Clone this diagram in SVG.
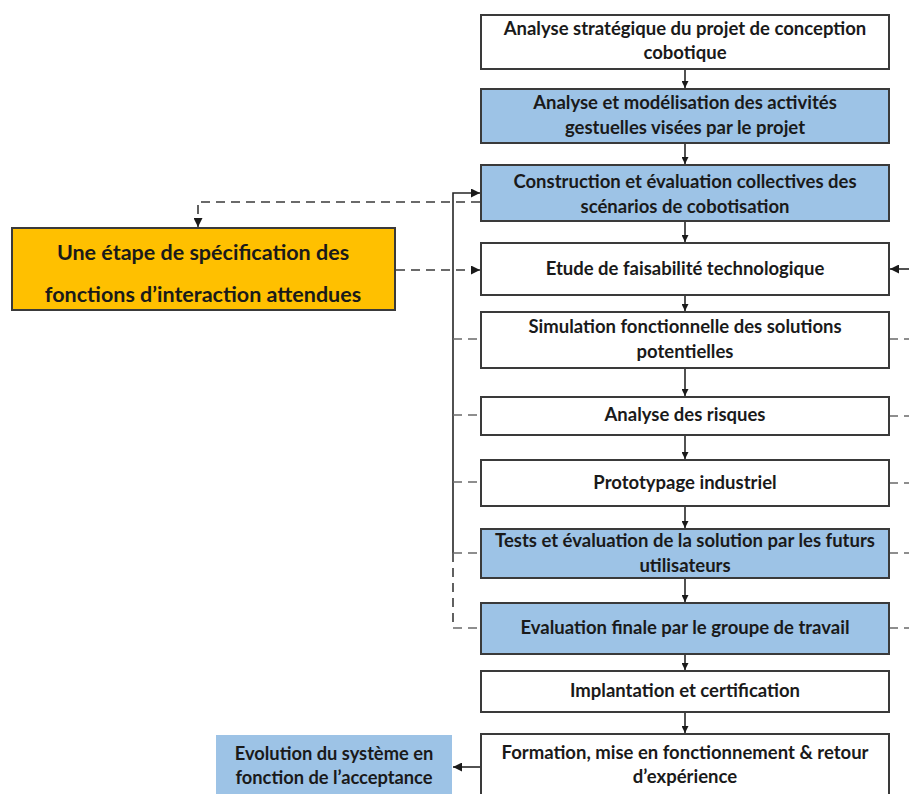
<svg xmlns="http://www.w3.org/2000/svg" width="909" height="794" viewBox="0 0 909 794">
<defs>
<marker id="ah" viewBox="0 0 10 10" refX="10" refY="5" markerWidth="9" markerHeight="9" markerUnits="userSpaceOnUse" orient="auto">
<path d="M0,0 L10,5 L0,10 z" fill="#1a1a1a"/>
</marker>
<marker id="ahs" viewBox="0 0 10 10" refX="10" refY="5" markerWidth="7" markerHeight="7" markerUnits="userSpaceOnUse" orient="auto">
<path d="M0,0 L10,5 L0,10 z" fill="#1a1a1a"/>
</marker>
<style>
.box{stroke:#3a3a3a;stroke-width:2;}
.w{fill:#ffffff;}
.b{fill:#9dc3e6;}
.o{fill:#ffc000;}
text{font-family:Lato,"Liberation Sans",sans-serif;font-weight:bold;font-size:18.5px;fill:#1a1a1a;text-anchor:middle;}
.big{font-size:21.5px;}
.ev{font-size:18.3px;}
.solid{stroke:#262626;stroke-width:1.6;fill:none;}
.dash{stroke:#3a3a3a;stroke-width:1.6;fill:none;stroke-dasharray:9 6;}
.gdash{stroke:#6a6a6a;stroke-width:1.6;fill:none;stroke-dasharray:9 6;}
</style>
</defs>
<rect width="909" height="794" fill="#ffffff"/>

<g id="connectors">
<line class="solid" x1="685" y1="69" x2="685" y2="88" marker-end="url(#ahs)"/>
<line class="solid" x1="685" y1="143" x2="685" y2="164" marker-end="url(#ahs)"/>
<line class="solid" x1="685" y1="221" x2="685" y2="242" marker-end="url(#ahs)"/>
<line class="solid" x1="685" y1="295" x2="685" y2="311" marker-end="url(#ahs)"/>
<line class="solid" x1="685" y1="368" x2="685" y2="396" marker-end="url(#ahs)"/>
<line class="solid" x1="685" y1="435" x2="685" y2="459" marker-end="url(#ahs)"/>
<line class="solid" x1="685" y1="506" x2="685" y2="528" marker-end="url(#ahs)"/>
<line class="solid" x1="685" y1="578" x2="685" y2="602" marker-end="url(#ahs)"/>
<line class="solid" x1="685" y1="654" x2="685" y2="670" marker-end="url(#ahs)"/>
<line class="solid" x1="685" y1="712" x2="685" y2="733" marker-end="url(#ahs)"/>
<polyline class="solid" points="453,553 453,193 480,193" marker-end="url(#ah)"/>
<line class="dash" x1="453" y1="553" x2="453" y2="628"/>
<polyline class="dash" points="480,202 198,202 198,227" marker-end="url(#ah)"/>
<line class="dash" x1="396" y1="270" x2="480" y2="270" marker-end="url(#ah)"/>
<line class="solid" x1="909" y1="269" x2="890" y2="269" marker-end="url(#ah)"/>
<line class="gdash" x1="453" y1="339" x2="481" y2="339"/>
<line class="gdash" x1="453" y1="415" x2="481" y2="415"/>
<line class="gdash" x1="453" y1="482" x2="481" y2="482"/>
<line class="gdash" x1="453" y1="553" x2="481" y2="553"/>
<line class="gdash" x1="453" y1="628" x2="481" y2="628"/>
<line class="gdash" x1="889" y1="339" x2="909" y2="339"/>
<line class="gdash" x1="889" y1="416" x2="909" y2="416"/>
<line class="gdash" x1="889" y1="483" x2="909" y2="483"/>
<line class="gdash" x1="889" y1="553" x2="909" y2="553"/>
<line class="gdash" x1="889" y1="628" x2="909" y2="628"/>
<line class="solid" x1="481" y1="767" x2="453" y2="767" marker-end="url(#ah)"/>
</g>

<g id="n1"><rect class="box w" x="481" y="15" width="408" height="54"/>
<text x="685" y="35">Analyse stratégique du projet de conception</text>
<text x="685" y="59">cobotique</text></g>

<g id="n2"><rect class="box b" x="481" y="89" width="408" height="54"/>
<text x="685" y="109">Analyse et modélisation des activités</text>
<text x="685" y="134">gestuelles visées par le projet</text></g>

<g id="n3"><rect class="box b" x="481" y="165" width="408" height="56"/>
<text x="685" y="188">Construction et évaluation collectives des</text>
<text x="685" y="213">scénarios de cobotisation</text></g>

<g id="n4"><rect class="box w" x="481" y="243" width="408" height="52"/>
<text x="685" y="275">Etude de faisabilité technologique</text></g>

<g id="n5"><rect class="box w" x="481" y="312" width="408" height="56"/>
<text x="685" y="333">Simulation fonctionnelle des solutions</text>
<text x="685" y="358">potentielles</text></g>

<g id="n6"><rect class="box w" x="481" y="397" width="408" height="38"/>
<text x="685" y="421">Analyse des risques</text></g>

<g id="n7"><rect class="box w" x="481" y="460" width="408" height="46"/>
<text x="685" y="489">Prototypage industriel</text></g>

<g id="n8"><rect class="box b" x="481" y="529" width="408" height="49"/>
<text x="685" y="547">Tests et évaluation de la solution par les futurs</text>
<text x="685" y="572">utilisateurs</text></g>

<g id="n9"><rect class="box b" x="481" y="603" width="408" height="51"/>
<text x="685" y="634">Evaluation finale par le groupe de travail</text></g>

<g id="n10"><rect class="box w" x="481" y="671" width="408" height="41"/>
<text x="685" y="697">Implantation et certification</text></g>

<g id="n11"><rect class="box w" x="481" y="734" width="408" height="70"/>
<text x="685" y="759">Formation, mise en fonctionnement &amp; retour</text>
<text x="685" y="783">d’expérience</text></g>

<g id="n12"><rect class="box o" x="12" y="228" width="383" height="82"/>
<text class="big" x="203" y="260">Une étape de spécification des</text>
<text class="big" x="203" y="302">fonctions d’interaction attendues</text></g>

<g id="n13"><rect class="b" x="216" y="735" width="236" height="70"/>
<text class="ev" x="334" y="760">Evolution du système en</text>
<text class="ev" x="334" y="784">fonction de l’acceptance</text></g>
</svg>
